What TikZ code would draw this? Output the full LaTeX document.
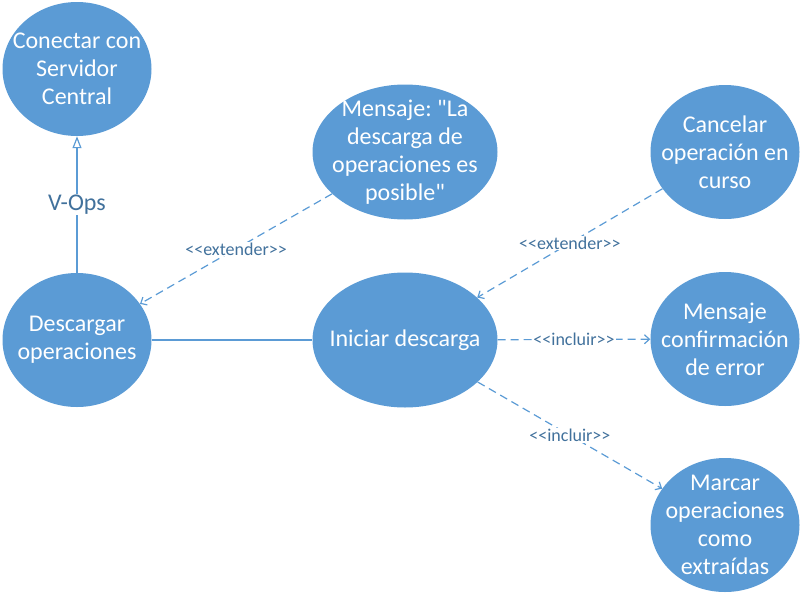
\documentclass[tikz,border=0pt]{standalone}
\usepackage{fontspec}
\setmainfont{Carlito}
\newfontfamily\casefont{Carlito}
\usepackage{tikz}
\usetikzlibrary{shapes.geometric,arrows.meta,positioning}
\definecolor{caseblue}{HTML}{5B9BD5}
\definecolor{labelblue}{HTML}{41719C}

\begin{document}
\begin{tikzpicture}[x=1pt,y=-1pt,
                    use case/.style={ellipse,fill=caseblue,draw=none,inner sep=-14pt,
                                     minimum width=149pt,minimum height=134pt,
                                     text=white,align=center,font=\casefont\frenchspacing\fontsize{24}{28}\selectfont},
                    wide case/.style={use case,minimum width=185pt,minimum height=135pt},
                    stereo/.style={fill=white,text=labelblue,inner sep=1pt,font=\casefont\fontsize{18}{20}\selectfont},
                    actor label/.style={stereo,font=\casefont\fontsize{24}{28}\selectfont},
                    assoc/.style={draw=caseblue,line width=1.2pt},
                    generalize/.style={assoc,-{Triangle[open,length=12pt,width=9pt]}},
                    dep/.style={assoc,dash pattern=on 8pt off 5pt,-{Straight Barb[length=5pt,width=9pt]}}]
\useasboundingbox (0,0) rectangle (808,597);

\node[use case] (Conectar) at (77,69) {Conectar con\\Servidor\\Central};
\node[use case] (Descargar) at (77,340) {Descargar\\operaciones};
\node[wide case] (MensajePosible) at (405,152) {Mensaje: "La\\descarga de\\operaciones es\\posible"};
\node[wide case] (Iniciar) at (405,340) {Iniciar descarga};
\node[use case] (Cancelar) at (725,152) {Cancelar\\operación en\\curso};
\node[use case] (MensajeError) at (725,339) {Mensaje\\confirmación\\de error};
\node[use case] (Marcar) at (725,525) {Marcar\\operaciones\\como\\extraídas};

\draw[generalize] (Descargar) -- node[actor label] {V-Ops} (Conectar);
\draw[assoc] (Descargar) -- (Iniciar);
\draw[dep] (MensajePosible) -- node[stereo] {<<extender>>} (Descargar);
\draw[dep] (Cancelar) -- node[stereo] {<<extender>>} (Iniciar);
\draw[dep] (Iniciar) -- node[stereo] {<<incluir>>} (MensajeError);
\draw[dep] (Iniciar) -- node[stereo] {<<incluir>>} (Marcar);

\end{tikzpicture}
\end{document}
